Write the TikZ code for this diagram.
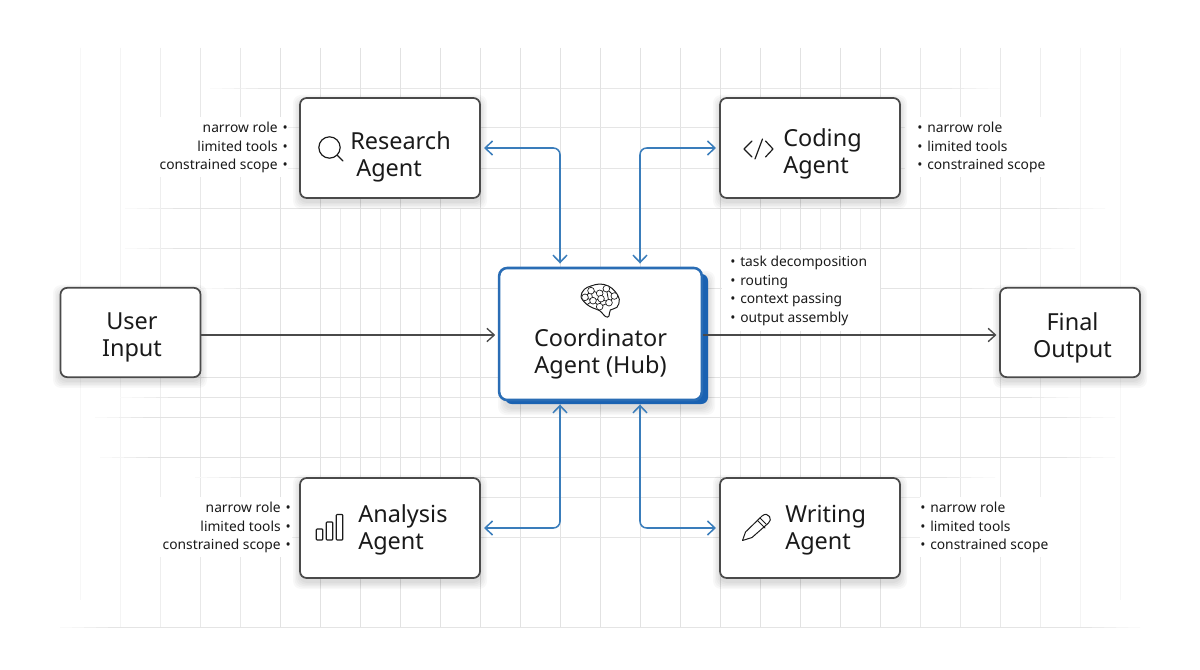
\documentclass[tikz,border=0pt]{standalone}
\usepackage{fontspec}
\setmainfont{Noto Sans}
\newfontfamily\titlefont{Noto Sans}
\usetikzlibrary{arrows.meta,calc}
\definecolor{ink}{HTML}{1A1A1A}
\definecolor{boxline}{HTML}{4A4A4A}
\definecolor{hubblue}{HTML}{2A6DB5}
\definecolor{hubback}{HTML}{1A62B2}
\definecolor{linkblue}{HTML}{3A7DBB}
\definecolor{gridc}{HTML}{E2E2E2}
\tikzset{
  x=0.75pt,y=-0.75pt,
  agentbox/.style={draw=boxline,line width=1.3pt,rounded corners=5pt,fill=white,inner sep=0pt,minimum width=135pt,minimum height=75pt},
  endbox/.style={agentbox,minimum width=105pt,minimum height=67pt},
  hubbox/.style={draw=hubblue,line width=1.9pt,rounded corners=6pt,fill=white,inner sep=0pt,minimum width=152pt,minimum height=99pt},
  title/.style={font=\titlefont\fontsize{17.6}{20.3}\selectfont,text=ink,inner sep=0pt,align=left},
  titlec/.style={title,align=center},
  note/.style={font=\fontsize{10.35}{13.9}\selectfont,text=ink,inner sep=0pt},
  biglink/.style={draw=boxline,line width=1pt,-{Straight Barb[length=5.5pt,width=10pt,line width=1pt]}},
  bluelink/.style={draw=linkblue,line width=1.15pt,rounded corners=5pt,{Straight Barb[length=5.5pt,width=10.5pt,line width=1.15pt]}-{Straight Barb[length=5.5pt,width=10.5pt,line width=1.15pt]},shorten <=2.4pt,shorten >=2.4pt},
  iconline/.style={draw=ink,line width=0.9pt,line cap=round,line join=round},
  brainline/.style={draw=ink,line width=0.5pt,line join=round},
  mask/.style={fill=white,draw=none},
  gridline/.style={line width=0.65pt}
}
% vertical line: x, top, bottom, tint
\newcommand{\gv}[4]{\draw[gridline,gridc!#4!white] (#1,#2) -- (#1,#3);}
% horizontal line with stepped fading ends: x1, x2, y, tint
\newcommand{\gh}[4]{%
  \foreach \t/\o in {0/20,1/40,2/60,3/80}{%
    \draw[gridline,gridc!\o!white,opacity=#4/100] (#1+\t*12,#3) -- (#1+\t*12+12,#3);
    \draw[gridline,gridc!\o!white,opacity=#4/100] (#2-\t*12,#3) -- (#2-\t*12-12,#3);
  }%
  \draw[gridline,gridc,opacity=#4/100] (#1+48,#3) -- (#2-48,#3);}
\newcommand{\ghs}[4]{\draw[gridline,gridc!#4!white] (#1,#3) -- (#2,#3);}
\begin{document}
\begin{tikzpicture}
\useasboundingbox (0,0) rectangle (1200,670);
\fill[white] (0,0) rectangle (1200,670);
% grid
\gv{80}{48}{600}{28}
\gv{120}{48}{627}{40}
\gv{160}{48}{627}{60}
\foreach \p in {200,240}{\gv{\p}{48}{627}{78}}
\foreach \p in {280,320,360,400,440,480,520,560,600,640,680,720,760,800,840,880}{\gv{\p}{48}{627}{100}}
\foreach \p in {920,960,1000}{\gv{\p}{48}{627}{78}}
\gv{1040}{48}{627}{60}
\gv{1080}{48}{627}{40}
\gv{1120}{48}{600}{28}
\foreach \p in {340,380,420,460,740,780,820,860}{\gv{\p}{208}{478}{70}}
\gh{210}{1000}{88}{80}
\ghs{285}{305}{127}{60}
\ghs{475}{725}{127}{90}
\ghs{895}{925}{127}{60}
\ghs{285}{305}{168}{60}
\ghs{475}{725}{168}{90}
\ghs{895}{925}{168}{60}
\gh{125}{1105}{208}{90}
\gh{125}{1075}{248}{90}
\gh{200}{1020}{288}{90}
\gh{150}{1060}{377}{100}
\gh{120}{1080}{397}{90}
\gh{95}{1115}{417}{100}
\gh{100}{1115}{457}{100}
\gh{195}{995}{477}{90}
\ghs{475}{725}{497}{90}
\ghs{895}{925}{497}{60}
\ghs{285}{305}{537}{60}
\ghs{475}{725}{537}{90}
\ghs{895}{925}{537}{60}
\gh{60}{1140}{627}{90}
% label masks
\fill[mask] (160,117) rectangle (288,177);
\fill[mask] (905,117) rectangle (1045,177);
\fill[mask] (160,497) rectangle (292,557);
\fill[mask] (920,497) rectangle (1050,557);
\fill[mask] (722,250) rectangle (880,331);
% soft shadows
\foreach \a/\b/\c/\d in {60/288/200/377,1000/288/1140/377,300/98/480/198,720/98/900/198,300/478/480/578,720/478/900/578,505/274/708/404}{
  \foreach \s in {7,5.5,...,0}{
    \fill[black,opacity=0.028,rounded corners=6pt] (\a-\s,\b+4-\s) rectangle (\c+\s,\d+4+\s);
  }
}
% hub back plate
\fill[hubback,rounded corners=5pt] (505,274) rectangle (708,404);
% boxes
\node[endbox] (user) at (130.5,332.5) {};
\node[endbox] (final) at (1070,332.5) {};
\node[agentbox] (research) at (390,148) {};
\node[agentbox] (coding) at (810,148) {};
\node[agentbox] (analysis) at (390,528) {};
\node[agentbox] (writing) at (810,528) {};
\node[hubbox] (hub) at (600.5,334) {};
% titles
\node[titlec] (tuser) at (132,337.5) {User\\Input};
\node[titlec] (tfinal) at (1072.5,337.5) {Final\\Output};
\node[titlec] (thub) at (600.5,354) {Coordinator\\Agent (Hub)};
\node[title,anchor=west] (tresearch) at (350,156.5) {Research\\\hspace*{4.5pt}Agent};
\node[title,anchor=west] (tcoding) at (783,153.5) {Coding\\Agent};
\node[title,anchor=west] (tanalysis) at (358,530) {Analysis\\Agent};
\node[title,anchor=west] (twriting) at (785,530) {Writing\\Agent};
% notes
\node[note,anchor=north east,align=right] (nresearch) at (288,122) {narrow role\hspace{3.6pt}\textbullet\\limited tools\hspace{3.6pt}\textbullet\\constrained scope\hspace{3.6pt}\textbullet};
\node[note,anchor=north east,align=right] (nanalysis) at (291,502) {narrow role\hspace{3.6pt}\textbullet\\limited tools\hspace{3.6pt}\textbullet\\constrained scope\hspace{3.6pt}\textbullet};
\node[note,anchor=north west,align=left] (ncoding) at (917,122) {\textbullet\hspace{3.6pt}narrow role\\\textbullet\hspace{3.6pt}limited tools\\\textbullet\hspace{3.6pt}constrained scope};
\node[note,anchor=north west,align=left] (nwriting) at (920,502) {\textbullet\hspace{3.6pt}narrow role\\\textbullet\hspace{3.6pt}limited tools\\\textbullet\hspace{3.6pt}constrained scope};
\node[note,anchor=north west,align=left] (nhub) at (730,256) {\textbullet\hspace{3.6pt}task decomposition\\\textbullet\hspace{3.6pt}routing\\\textbullet\hspace{3.6pt}context passing\\\textbullet\hspace{3.6pt}output assembly};
% connectors
\draw[biglink,shorten >=2pt] (user.east |- 0,335) -- (hub.west |- 0,335);
\draw[biglink,shorten >=2pt] (hub.east |- 0,335) -- (final.west |- 0,335);
\draw[bluelink] (research.east) -| ($(hub.north)+(-40.5,0)$);
\draw[bluelink] (coding.west) -| ($(hub.north)+(39.5,0)$);
\draw[bluelink] (analysis.east) -| ($(hub.south)+(-40.5,0)$);
\draw[bluelink] (writing.west) -| ($(hub.south)+(39.5,0)$);
% icons
\draw[iconline] (329.5,147.5) circle (8pt) (337,155) -- (343,161);
\draw[iconline] (752,141) -- (744,149) -- (752,157) (755,159) -- (762.5,139) (765.5,141) -- (773,149) -- (765.5,157);
\draw[iconline,rounded corners=0.6pt] (316.3,529) rectangle (322.7,540);
\draw[iconline,rounded corners=0.6pt] (326.3,522) rectangle (332.7,540);
\draw[iconline,rounded corners=0.6pt] (336.3,514.5) rectangle (342.7,540);
\draw[iconline,line width=0.75pt] (742.5,540.5) -- (745.5,532) -- (762,516) .. controls (765,513.5) and (768,514) .. (769.5,516.5) .. controls (771,519) and (770.5,521) .. (768.5,523) -- (752,537.5) -- cycle;
\draw[iconline,line width=0.75pt] (757.5,520.5) -- (765,528) (760,518) -- (766,524);
% brain
\begin{scope}[shift={(581,284)},x=0.25pt,y=-0.25pt]
\draw[brainline,line width=0.75pt] plot[smooth cycle,tension=0.6] coordinates {(0,38)(10,16)(30,6)(56,0)(82,6)(102,22)(115,46)(108,70)(88,78)(84,96)(74,98)(56,80)(36,72)(16,60)};
\draw[brainline,line width=0.6pt] (12,40)--(30,20)--(56,28)--(76,14)--(100,36)--(84,56)--(60,44)--(36,50)--(18,62)
 (30,20)--(36,50)--(56,68)--(84,56) (56,28)--(60,44)--(56,68) (76,14)--(84,56) (12,40)--(36,50);
\foreach \q in {(30,20),(56,28),(76,14),(100,36),(84,56),(60,44),(36,50),(56,68),(12,40)}{\fill[white] \q circle (2.5pt); \draw[brainline] \q circle (2.5pt);}
\end{scope}
\end{tikzpicture}
\end{document}
